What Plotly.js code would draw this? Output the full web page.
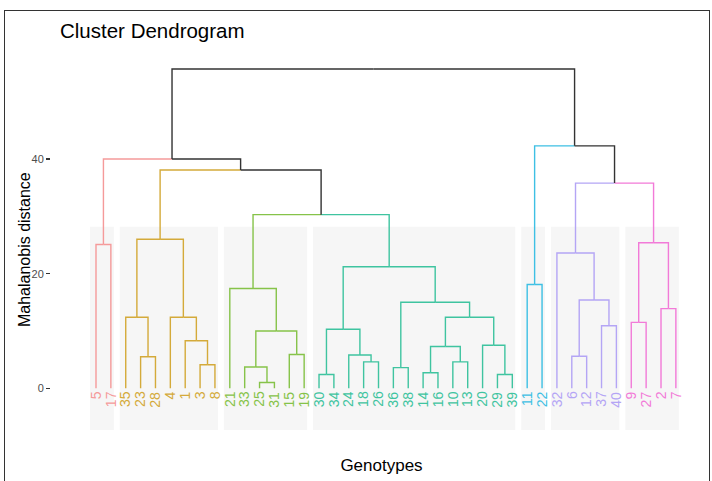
<!DOCTYPE html>
<html><head><meta charset="utf-8">
<script src="https://cdn.plot.ly/plotly-3.0.1.min.js"></script>
<style>
html,body{margin:0;padding:0;background:#fff;overflow:hidden}
#chart{width:712px;height:481px}
#frame{position:absolute;left:4px;top:10px;width:704px;height:480px;border:1.5px solid #333;pointer-events:none}
</style></head><body>
<div id="chart"></div><div id="frame"></div>
<script>
// hclust-style merge table: negative = genotype (leaf), positive = earlier merge row (1-based)
const mergeA = [-25,-30,-29,-14,-36,-33,-3,-18,-10,-23,-6,-24,-15,4,-20,-1,6,2,-37,-9,-35,-4,14,-2,5,11,-21,-11,18,-32,-5,20,21,27,30,33,31,28,37];
const mergeB = [-31,-34,-39,-16,-38,1,-8,-26,-13,-28,-12,8,-19,9,3,7,13,12,-40,-27,10,16,15,-7,23,19,17,-22,25,26,-17,24,22,29,32,34,36,35,38];
const mergeHeight = [1.0,2.4,2.4,2.7,3.6,3.7,4.1,4.6,4.6,5.5,5.6,5.8,5.9,7.3,7.5,8.3,10.0,10.3,10.9,11.5,12.4,12.4,12.4,13.9,15.0,15.4,17.4,18.1,21.2,23.6,25.1,25.4,26.0,30.3,35.8,38.1,40.0,42.3,55.7];
const clusterSizes = [2,7,6,14,2,5,4];
const clusterColors = ['#F59A9A','#D4AA3A','#86C349','#3FC4A0','#3EC0E4','#B4A5F5','#F27AD8'];
const mixedColor = '#333333';
const yTicks = [0,20,40];

const n = mergeHeight.length;
const order = [];
function collect(id){ if(id<0){order.push(-id);return;} collect(mergeA[id-1]); collect(mergeB[id-1]); }
collect(n);
const leafPos = {}; order.forEach((g,i)=>{leafPos[g]=i+1;});
const leafCluster = {}; let idx=0;
clusterSizes.forEach((s,c)=>{for(let k=0;k<s;k++){leafCluster[order[idx++]]=c;}});
const nodes=[];
function info(id){ return id<0 ? {x:leafPos[-id],h:0,c:leafCluster[-id]} : nodes[id-1]; }
for(let i=0;i<n;i++){
  const a=info(mergeA[i]), b=info(mergeB[i]);
  nodes.push({x:(a.x+b.x)/2,h:mergeHeight[i],c:(a.c===b.c?a.c:-1),kids:[a,b]});
}
const segs={};
nodes.forEach(nd=>{
  nd.kids.forEach(ch=>{
    const k=ch.c; if(!segs[k]) segs[k]={x:[],y:[]};
    segs[k].x.push(ch.x,ch.x,nd.x,null);
    segs[k].y.push(ch.h,nd.h,nd.h,null);
  });
});
const traces=Object.keys(segs).map(k=>({
  type:'scatter',mode:'lines',x:segs[k].x,y:segs[k].y,hoverinfo:'skip',
  line:{color:(+k<0?mixedColor:clusterColors[+k]),width:1.4}
}));

const shapes=[]; let start=1;
clusterSizes.forEach(s=>{
  shapes.push({type:'rect',xref:'x',yref:'y',x0:start-0.4,x1:start+s-1+0.2,y0:-7.3,y1:28.2,
    fillcolor:'#F6F6F6',line:{width:0},layer:'below'});
  start+=s;
});
const annotations=order.map(g=>({x:leafPos[g],y:0,xref:'x',yref:'y',text:String(g),showarrow:false,
  textangle:-90,xanchor:'center',yanchor:'top',yshift:-1,
  font:{size:14,color:clusterColors[leafCluster[g]],family:'Liberation Sans, Arial, sans-serif'}}));
annotations.push({text:'Mahalanobis distance',xref:'paper',yref:'paper',x:(24-51)/661,y:(441-250)/396,
  xanchor:'center',yanchor:'middle',textangle:-90,showarrow:false,font:{size:16,color:'#000'}});

const layout={
  width:712,height:481,showlegend:false,
  paper_bgcolor:'#fff',plot_bgcolor:'#fff',
  font:{family:'Liberation Sans, Arial, sans-serif'},
  title:{text:'Cluster Dendrogram',xref:'container',yref:'container',x:60/712,xanchor:'left',y:1-31/481,yanchor:'middle',
    font:{size:20.5,color:'#000'}},
  margin:{l:51,r:0,t:45,b:40},
  xaxis:{range:[-2.026,42.43],showticklabels:false,ticks:'',showgrid:false,zeroline:false,showline:false,
    title:{text:'Genotypes',font:{size:17,color:'#000'},standoff:18}},
  yaxis:{range:[-9.2,59.9],tickvals:yTicks,ticktext:yTicks.map(String),ticks:'outside',ticklen:4,tickwidth:1.1,tickcolor:'#333',
    tickfont:{size:11,color:'#4D4D4D'},showgrid:false,zeroline:false,showline:false},
  shapes:shapes,annotations:annotations
};
Plotly.newPlot('chart',traces,layout,{staticPlot:true});
</script></body></html>
